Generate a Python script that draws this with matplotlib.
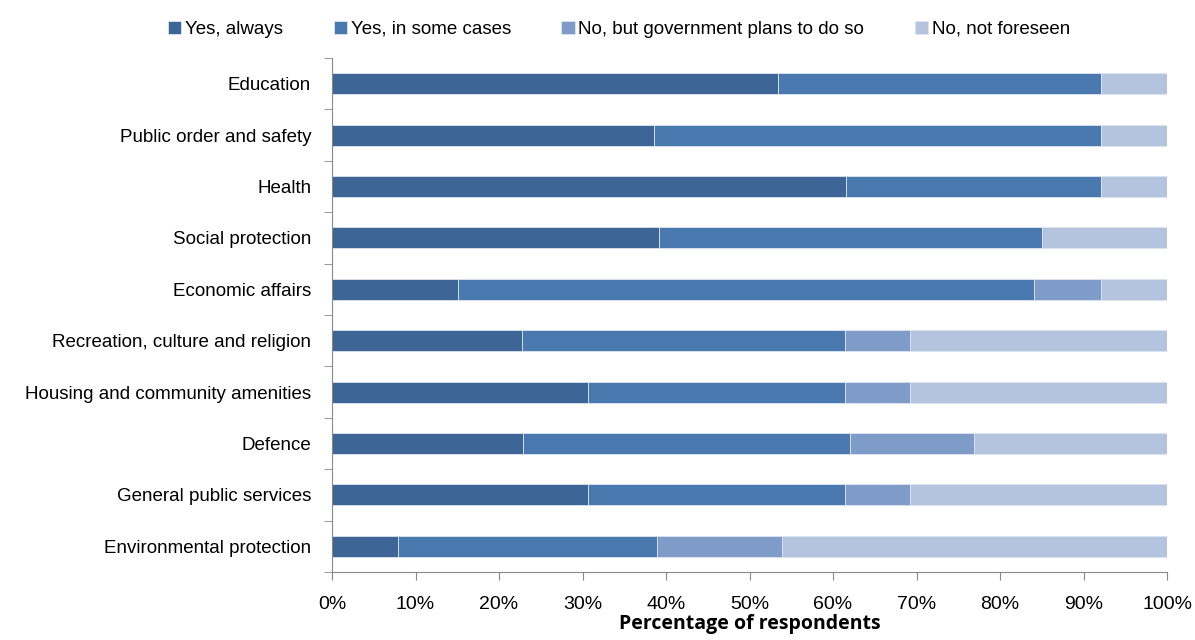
import matplotlib
matplotlib.use("Agg")
import matplotlib.pyplot as plt
import numpy as np

plt.rcParams['font.family'] = ['Liberation Sans', 'DejaVu Sans']

categories = ["Education", "Public order and safety", "Health", "Social protection",
              "Economic affairs", "Recreation, culture and religion",
              "Housing and community amenities", "Defence",
              "General public services", "Environmental protection"]
series = ["Yes, always", "Yes, in some cases", "No, but government plans to do so", "No, not foreseen"]
yes_always = [53.4, 38.6, 61.5, 39.2, 15.1, 22.7, 30.6, 22.9, 30.6, 7.9]
yes_some = [38.7, 53.5, 30.6, 45.8, 69.0, 38.7, 30.8, 39.1, 30.8, 31.0]
no_plans = [0, 0, 0, 0, 8.0, 7.8, 7.8, 14.9, 7.8, 15.0]
no_not = [7.9, 7.9, 7.9, 15.0, 7.9, 30.8, 30.8, 23.1, 30.8, 46.1]
colors = ["#3d6696", "#4a79b0", "#7f9cc8", "#b4c3de"]
x_ticks = [0, 10, 20, 30, 40, 50, 60, 70, 80, 90, 100]

fig = plt.figure(figsize=(11.95, 6.4), dpi=100)
ax = fig.add_axes([332/1195, 1 - 572/640, (1167-332)/1195, (572-58)/640])

y = np.arange(len(categories))
left = np.zeros(len(categories))
for vals, name, col in zip([yes_always, yes_some, no_plans, no_not], series, colors):
    ax.barh(y, vals, left=left, height=0.41, color=col, label=name,
            edgecolor="#dde4ef", linewidth=0.6)
    left += np.array(vals)

ax.set_ylim(len(categories) - 0.5, -0.5)
ax.set_xlim(0, 100)
ax.set_xticks(x_ticks)
ax.set_xticklabels([f"{t}%" for t in x_ticks], fontsize=14)
ax.set_yticks(y)
ax.set_yticklabels(categories, fontsize=13.5)
ax.set_yticks(np.arange(-0.5, len(categories), 1), minor=True)
ax.tick_params(axis='y', which='major', length=0, pad=15)
ax.tick_params(axis='y', which='minor', length=6, direction='out', color='#888888')
ax.tick_params(axis='x', length=6, direction='out', color='#888888', pad=11)

for s in ['top', 'right']:
    ax.spines[s].set_visible(False)
for s in ['left', 'bottom']:
    ax.spines[s].set_color('#888888')

ax.set_xlabel("Percentage of respondents", fontsize=14, fontweight='bold',
              family=['Open Sans', 'DejaVu Sans'], labelpad=1)

leg = fig.legend(loc='upper center', bbox_to_anchor=(0.518, 1.0), ncol=4, frameon=False,
                 fontsize=13.5, handlelength=0.7, handleheight=0.7, handletextpad=0.2,
                 columnspacing=2.7, borderaxespad=0.7)

fig.savefig("out.png", dpi=100)
